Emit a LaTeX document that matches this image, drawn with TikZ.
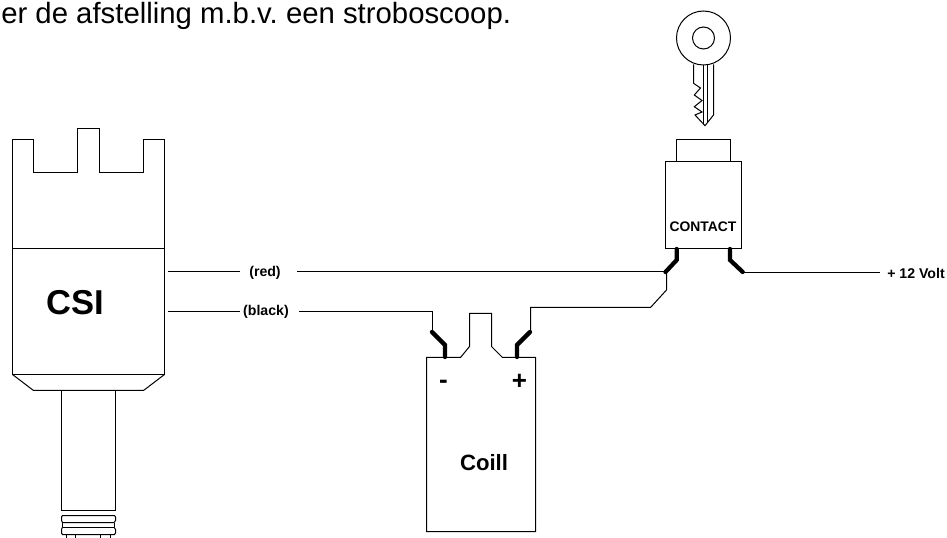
\documentclass[tikz,border=0pt]{standalone}
\usepackage{fontspec}
\setmainfont{Liberation Sans}
\frenchspacing
\tikzset{
  px/.style={x=0.75pt,y=-0.75pt},
  thin line/.style={draw=black,line width=0.75pt,line join=miter},
  lead/.style={draw=black,line width=3.2pt,line join=miter,line cap=round},
  lbl/.style={inner sep=0pt,font=\bfseries\fontsize{10.6pt}{12pt}\selectfont},
}
\begin{document}
\begin{tikzpicture}[px]
\useasboundingbox (0,0) rectangle (947,538);
\fill[white] (0,0) rectangle (947,538);
\node[anchor=base west,inner sep=0pt,font=\fontsize{22pt}{26pt}\selectfont] (title) at (1,24) {er de afstelling m.b.v. een stroboscoop.};
% CSI
\draw[thin line] (12.5,248.5) -- (12.5,139.5) -- (33.5,139.5) -- (33.5,172.5) -- (77.5,172.5) -- (77.5,128.5) -- (99.5,128.5) -- (99.5,172.5) -- (143.5,172.5) -- (143.5,139.5) -- (164.5,139.5) -- (164.5,248.5);
\draw[thin line] (12.5,248.5) rectangle (164.5,374.5);
\draw[thin line] (12.5,374.5) -- (33.5,390.5) -- (143.5,390.5) -- (164.5,374.5);
\draw[thin line] (61.5,390.5) rectangle (115.5,510.5);
\draw[thin line] (62.5,515.5) -- (114.5,515.5) -- (115.5,517) -- (115.5,520.5) -- (114,522.5) -- (62.5,522.5) -- (61.5,520.5) -- (61.5,517) -- cycle;
\draw[thin line] (62.5,522.5) -- (62.5,527);
\draw[thin line] (114,522.5) -- (114,527);
\draw[thin line] (62.5,527) -- (114,527);
\draw[thin line] (62.5,527) -- (61.5,529.5) -- (61.5,533) -- (62.5,534.5) -- (114.5,534.5) -- (115.5,533) -- (115.5,529.5) -- (114,527);
\foreach \x in {66.5,75.5,100.5,110.5}{\draw[thin line] (\x,534.5) -- (\x,538);}
\node[inner sep=0pt,font=\bfseries\fontsize{25.9pt}{28pt}\selectfont] (csi) at (75.5,302.7) {CSI};
% Coil
\draw[thin line] (426.5,357.5) -- (460.5,357.5) -- (469.5,346.5) -- (469.5,313.5) -- (491.5,313.5) -- (491.5,346.5) -- (502.5,357.5) -- (535.5,357.5) -- (535.5,531.5) -- (426.5,531.5) -- cycle;
\node[inner sep=0pt,font=\bfseries\fontsize{16.6pt}{19pt}\selectfont] (coil) at (484,463) {Coill};
\node[anchor=base,inner sep=0pt,font=\bfseries\fontsize{19.5pt}{22pt}\selectfont] (minus) at (443.5,389) {-};
\node[inner sep=0pt,font=\bfseries\fontsize{19.5pt}{22pt}\selectfont] (plus) at (519.5,381.7) {+};
% Contact
\draw[thin line] (676.5,161.5) -- (676.5,139.5) -- (730.5,139.5) -- (730.5,161.5);
\draw[thin line] (665.5,161.5) rectangle (741.5,248.5);
\node[inner sep=0pt,font=\bfseries\fontsize{10.4pt}{12pt}\selectfont] (contact) at (703,226.7) {CONTACT};
% Key
\draw[thin line] (703.5,38) circle (27);
\draw[thin line] (703.5,38) circle (11);
\draw[thin line] (693.5,64.5) -- (693.5,83.3) -- (700.5,88) -- (694.3,95) -- (702,100.5) -- (694.3,106.7) -- (702,112) -- (695,115) -- (705,125.7) -- (713.5,115) -- (713.5,64.5);
\draw[thin line] (703.5,65) -- (703.5,124);
\draw[thin line] (707.5,65) -- (707.5,122);
% Terminals
\coordinate (tl0) at (676.7,249); \coordinate (tl1) at (676.7,260); \coordinate (tl2) at (665.5,272);
\coordinate (tr0) at (730,249); \coordinate (tr1) at (730,260); \coordinate (tr2) at (742.7,272);
\coordinate (cm0) at (445,357); \coordinate (cm1) at (445,345); \coordinate (cm2) at (432,332);
\coordinate (cp0) at (517,357); \coordinate (cp1) at (517,345); \coordinate (cp2) at (530,332);
\draw[lead] (tl0) -- (tl1) -- (tl2);
\draw[lead] (tr0) -- (tr1) -- (tr2);
\draw[lead] (cm0) -- (cm1) -- (cm2);
\draw[lead] (cp0) -- (cp1) -- (cp2);
% Wires
\node[lbl] (red) at (265,273) {(red)};
\node[lbl] (black) at (266,311.7) {(black)};
\node[lbl,anchor=west] (volt) at (887,273) {+ 12 Volt};
\coordinate (csired) at (168.3,271.5); \coordinate (redL) at (240,271.5); \coordinate (redR) at (297,271.5); \coordinate (redE) at (665.5,271.5);
\coordinate (csiblack) at (168.3,311.5); \coordinate (blackL) at (240,311.5); \coordinate (blackR) at (299,311.5); \coordinate (blackC) at (432.5,311.5);
\coordinate (voltS) at (742.7,272.5); \coordinate (voltL) at (880,272.5);
\coordinate (br0) at (666.5,272); \coordinate (br1) at (666.5,290); \coordinate (br2) at (650.5,307.5); \coordinate (br3) at (530.5,307.5);
\draw[thin line] (csired) -- (redL);
\draw[thin line] (redR) -- (redE);
\draw[thin line] (csiblack) -- (blackL);
\draw[thin line] (blackR) -- (blackC) -- (432.5,332);
\draw[thin line] (br0) -- (br1) -- (br2) -- (br3) -- (530.5,332);
\draw[thin line] (voltS) -- (voltL);
\end{tikzpicture}
\end{document}
